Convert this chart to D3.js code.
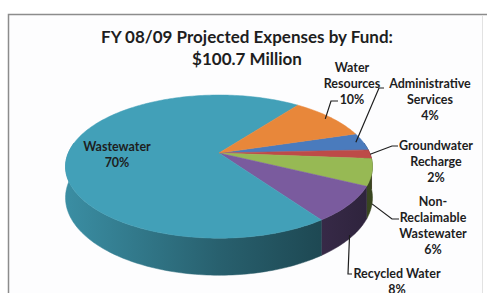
<!DOCTYPE html>
<html>
<head>
<meta charset="utf-8">
<script src="https://cdn.jsdelivr.net/npm/d3@7"></script>
<style>
    html, body { margin: 0; padding: 0; background: #fff; }
    svg { display: block; }
    text { font-family: Lato, "Open Sans", sans-serif; font-weight: bold; fill: #1e1e1e; }
</style>
</head>
<body>
<svg id="chart" width="487" height="293"></svg>
<script>
// ---- data ----
const categories = ["Administrative Services", "Groundwater Recharge", "Non-Reclaimable Wastewater",
                    "Recycled Water", "Wastewater", "Water Resources"];
const shares = [4, 2, 6, 8, 70, 10];
const labelLines = [["Administrative", "Services"], ["Groundwater", "Recharge"], ["Non-", "Reclaimable", "Wastewater"],
                    ["Recycled Water"], ["Wastewater"], ["Water", "Resources"]];
const titleLines = ["FY 08/09 Projected Expenses by Fund:", "$100.7 Million"];
const sliceColors = ["#4a7bbd", "#bd4b48", "#97b954", "#7a5b9e", "#42a0b8", "#e8873a"];

// ---- layout ----
const W = 487, H = 293;
const cx = 219, cy = 153;          // apex of the pie
const sx = 150.7, sy = 69;         // ellipse radii before perspective
const persp = 0.19, depth = 30;    // perspective strength, wall height
const startAngle = 73 * Math.PI / 180;
const lineH = 16;

// label position (centre x, first baseline) and leader (attach, elbow, anchor r/h)
const labelLayout = [
    { x: 430, y: 88,  leader: [[384, 88], [379, 88]],   r: 0.95, h: 0 },
    { x: 436, y: 150, leader: [[398, 146], [392, 146]], r: 1.0,  h: 0 },
    { x: 433, y: 206, leader: [[399, 219], [392, 219]], r: 1.0,  h: 1 },
    { x: 397, y: 278, leader: [[352, 274], [348, 274]], r: 1.0,  h: 0.9 },
    { x: 117, y: 151, leader: null },
    { x: 352, y: 72,  leader: [[338, 101], [331, 101]], r: 0.95, h: 0 }
];

const svg = d3.select('#chart');

// 外框
svg.append('rect')
    .attr('x', 8.5).attr('y', 14.5)
    .attr('width', 474).attr('height', 300)
    .attr('fill', '#fdfdfe');
svg.append('path')
    .attr('d', 'M8.5,300V14.5H487')
    .attr('fill', 'none')
    .attr('stroke', '#8c8c8c')
    .attr('stroke-width', 1.5);
svg.append('line')
    .attr('x1', 482.5).attr('x2', 482.5).attr('y1', 15).attr('y2', 300)
    .attr('stroke', '#e2e2e2');

// 透視投影: angle clockwise from 12 o'clock, r radius factor, h 0 = top face, 1 = bottom
function proj(a, r, h) {
    const u = r * Math.sin(a), v = r * Math.cos(a);
    const w = 1 + persp * v;
    return [cx + sx * u / w, cy + (-sy * v + depth * h) / w];
}

function rim(a0, a1, h) {
    const n = Math.max(2, Math.ceil((a1 - a0) / 0.02));
    return d3.range(n + 1).map(i => proj(a0 + (a1 - a0) * i / n, 1, h));
}

const pie = d3.pie().sort(null)
    .startAngle(startAngle)
    .endAngle(startAngle + 2 * Math.PI);
const arcs = pie(shares);
const line = d3.line();

// 側面漸層
const defs = svg.append('defs');
sliceColors.forEach((c, i) => {
    const g = defs.append('linearGradient')
        .attr('id', 'side' + i)
        .attr('gradientUnits', 'userSpaceOnUse')
        .attr('x1', cx - sx).attr('x2', cx + sx).attr('y1', 0).attr('y2', 0);
    [[0, 0.12], [0.5, 0.4], [1, 0.62]].forEach(([o, t]) => {
        g.append('stop').attr('offset', o).attr('stop-color', d3.interpolateRgb(c, '#000')(t));
    });
});

// 側面 (only the front half is visible)
const visLo = Math.PI / 2 - 0.15, visHi = 3 * Math.PI / 2 + 0.15;
const walls = svg.append('g');
arcs.forEach((d, i) => {
    [0, 2 * Math.PI].forEach(shift => {
        const a0 = Math.max(d.startAngle - shift, visLo);
        const a1 = Math.min(d.endAngle - shift, visHi);
        if (a1 <= a0) return;
        const pts = rim(a0, a1, 0).concat(rim(a0, a1, 1).reverse());
        walls.append('path')
            .attr('d', line(pts) + 'Z')
            .attr('fill', `url(#side${i})`)
            .attr('stroke', `url(#side${i})`)
            .attr('stroke-width', 0.5);
    });
});

// 頂面
const tops = svg.append('g');
arcs.forEach((d, i) => {
    const pts = [proj(0, 0, 0)].concat(rim(d.startAngle, d.endAngle, 0));
    tops.append('path')
        .attr('d', line(pts) + 'Z')
        .attr('fill', sliceColors[i])
        .attr('stroke', sliceColors[i])
        .attr('stroke-width', 0.5);
});

// 引線
const leaders = svg.append('g');
arcs.forEach((d, i) => {
    const L = labelLayout[i];
    if (!L.leader) return;
    const mid = (d.startAngle + d.endAngle) / 2;
    const pts = L.leader.concat([proj(mid, L.r, L.h)]);
    leaders.append('path')
        .attr('d', line(pts))
        .attr('fill', 'none')
        .attr('stroke', '#1e1e1e')
        .attr('stroke-width', 1.2);
});

// 資料標籤
const labels = svg.append('g').attr('text-anchor', 'middle').style('font-size', '12.5px');
arcs.forEach((d, i) => {
    const L = labelLayout[i];
    const lines = labelLines[i].concat([shares[i] + '%']);
    const t = labels.append('text');
    lines.forEach((s, j) => {
        t.append('tspan').attr('x', L.x).attr('y', L.y + j * lineH).text(s);
    });
});

// 標題
svg.append('g').attr('text-anchor', 'middle').style('font-size', '17px')
    .selectAll('text').data(titleLines).join('text')
    .attr('x', 247)
    .attr('y', (d, i) => 43 + i * 22)
    .text(d => d);
</script>
</body>
</html>
